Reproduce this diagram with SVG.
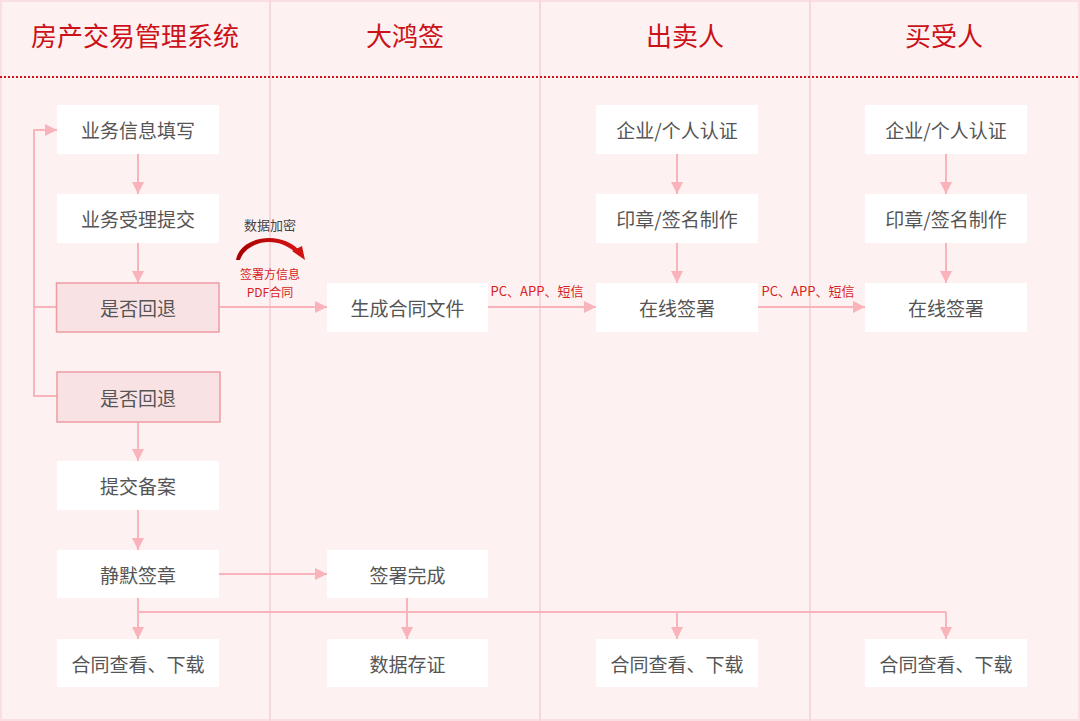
<svg xmlns="http://www.w3.org/2000/svg" width="1080" height="721" viewBox="0 0 1080 721">
<defs>
<style>
.bg{fill:#fdf1f2}
.col{stroke:#f6d7da;stroke-width:2}
.title{font-family:"Noto Sans CJK SC","Noto Sans",sans-serif;font-size:26px;fill:#cc1118;text-anchor:middle}
.box{fill:#ffffff}
.hl{fill:#f9e2e4;stroke:#ee9ca2;stroke-width:1.5}
.t{font-family:"Noto Sans CJK SC","Noto Sans",sans-serif;font-size:19px;fill:#555555;text-anchor:middle;dominant-baseline:central}
.lbl{font-family:"Noto Sans CJK SC","Noto Sans",sans-serif;font-size:13px;fill:#d81e1e;text-anchor:middle}
.lbl3{font-family:"Noto Sans CJK SC","Noto Sans",sans-serif;font-size:12px;fill:#d81e1e;text-anchor:middle}
.lbl2{font-family:"Noto Sans CJK SC","Noto Sans",sans-serif;font-size:13px;fill:#444444;text-anchor:middle}
.ln{fill:none;stroke:#f8b4ba;stroke-width:2}
.ar{fill:none;stroke:#f8b4ba;stroke-width:2;marker-end:url(#ah)}
</style>
<marker id="ah" viewBox="0 0 10 10" refX="10" refY="5" markerWidth="6" markerHeight="6" markerUnits="strokeWidth" orient="auto">
<path d="M0,0 L10,5 L0,10 Z" fill="#f8b4ba"/>
</marker>
<linearGradient id="cg" x1="0" y1="0" x2="1" y2="0">
<stop offset="0" stop-color="#a80000"/>
<stop offset="1" stop-color="#d41414"/>
</linearGradient>
</defs>
<rect class="bg" x="0" y="0" width="1080" height="721"/>
<rect x="1" y="1" width="1078" height="719" fill="none" stroke="#f9dfe2" stroke-width="2"/>
<g id="lanes">
<line class="col" x1="270" y1="0" x2="270" y2="721"/>
<line class="col" x1="540" y1="0" x2="540" y2="721"/>
<line class="col" x1="810" y1="0" x2="810" y2="721"/>
<line x1="0" y1="77" x2="1080" y2="77" stroke="#d0141c" stroke-width="2" stroke-dasharray="2 2"/>
<text class="title" x="135" y="46">房产交易管理系统</text>
<text class="title" x="405" y="46">大鸿签</text>
<text class="title" x="685" y="46">出卖人</text>
<text class="title" x="944" y="46">买受人</text>
</g>
<g id="connectors">
<line class="ar" x1="138" y1="154" x2="138" y2="194"/>
<line class="ar" x1="138" y1="243" x2="138" y2="283"/>
<line class="ar" x1="138" y1="422" x2="138" y2="461"/>
<line class="ar" x1="138" y1="510" x2="138" y2="550"/>
<polyline class="ln" points="57,307 34,307"/>
<polyline class="ar" points="57,396 34,396 34,130 57,130"/>
<line class="ar" x1="219" y1="307" x2="327" y2="307"/>
<line class="ar" x1="488" y1="307" x2="596" y2="307"/>
<line class="ar" x1="758" y1="307" x2="865" y2="307"/>
<line class="ar" x1="677" y1="154" x2="677" y2="194"/>
<line class="ar" x1="677" y1="243" x2="677" y2="283"/>
<line class="ar" x1="946" y1="154" x2="946" y2="194"/>
<line class="ar" x1="946" y1="243" x2="946" y2="283"/>
<line class="ar" x1="219" y1="574" x2="327" y2="574"/>
<line class="ar" x1="138" y1="598" x2="138" y2="639"/>
<line class="ln" x1="138" y1="612" x2="946" y2="612"/>
<line class="ar" x1="677" y1="612" x2="677" y2="639"/>
<line class="ar" x1="946" y1="612" x2="946" y2="639"/>
<line class="ar" x1="407" y1="598" x2="407" y2="639"/>
<text class="lbl" x="537" y="296">PC、APP、短信</text>
<text class="lbl" x="808" y="296">PC、APP、短信</text>
<text class="lbl2" x="270" y="230">数据加密</text>
<path d="M236,260 C238,247 252,238 269,238 C282,238 292,243 298,249 L295,252 C288,246 279,242 269,242 C255,242 243,250 240,260 Z" fill="url(#cg)"/>
<path d="M292,251 L302,246 L305,260 Z" fill="#d01212"/>
<text class="lbl3" x="270" y="279">签署方信息</text>
<text class="lbl3" x="270" y="296.5">PDF合同</text>
</g>
<g id="n1"><rect class="box" x="57" y="105" width="162" height="49"/><text class="t" x="138" y="129.5">业务信息填写</text></g>
<g id="n2"><rect class="box" x="57" y="194" width="162" height="49"/><text class="t" x="138" y="218.5">业务受理提交</text></g>
<g id="n3"><rect class="hl" x="56.5" y="283" width="162.5" height="49"/><text class="t" x="138" y="307.5">是否回退</text></g>
<g id="n4"><rect class="hl" x="57" y="372" width="163" height="50"/><text class="t" x="138" y="397">是否回退</text></g>
<g id="n5"><rect class="box" x="57" y="461" width="162" height="49"/><text class="t" x="138" y="485.5">提交备案</text></g>
<g id="n6"><rect class="box" x="57" y="550" width="162" height="48"/><text class="t" x="138" y="574">静默签章</text></g>
<g id="n7"><rect class="box" x="57" y="639" width="162" height="48"/><text class="t" x="138" y="663">合同查看、下载</text></g>
<g id="n8"><rect class="box" x="327" y="283" width="161" height="49"/><text class="t" x="407.5" y="307.5">生成合同文件</text></g>
<g id="n9"><rect class="box" x="327" y="550" width="161" height="48"/><text class="t" x="407.5" y="574">签署完成</text></g>
<g id="n10"><rect class="box" x="327" y="639" width="161" height="48"/><text class="t" x="407.5" y="663">数据存证</text></g>
<g id="n11"><rect class="box" x="596" y="105" width="162" height="49"/><text class="t" x="677" y="129.5">企业/个人认证</text></g>
<g id="n12"><rect class="box" x="596" y="194" width="162" height="49"/><text class="t" x="677" y="218.5">印章/签名制作</text></g>
<g id="n13"><rect class="box" x="596" y="283" width="162" height="49"/><text class="t" x="677" y="307.5">在线签署</text></g>
<g id="n14"><rect class="box" x="596" y="639" width="162" height="48"/><text class="t" x="677" y="663">合同查看、下载</text></g>
<g id="n15"><rect class="box" x="865" y="105" width="162" height="49"/><text class="t" x="946" y="129.5">企业/个人认证</text></g>
<g id="n16"><rect class="box" x="865" y="194" width="162" height="49"/><text class="t" x="946" y="218.5">印章/签名制作</text></g>
<g id="n17"><rect class="box" x="865" y="283" width="162" height="49"/><text class="t" x="946" y="307.5">在线签署</text></g>
<g id="n18"><rect class="box" x="865" y="639" width="162" height="48"/><text class="t" x="946" y="663">合同查看、下载</text></g>
</svg>
